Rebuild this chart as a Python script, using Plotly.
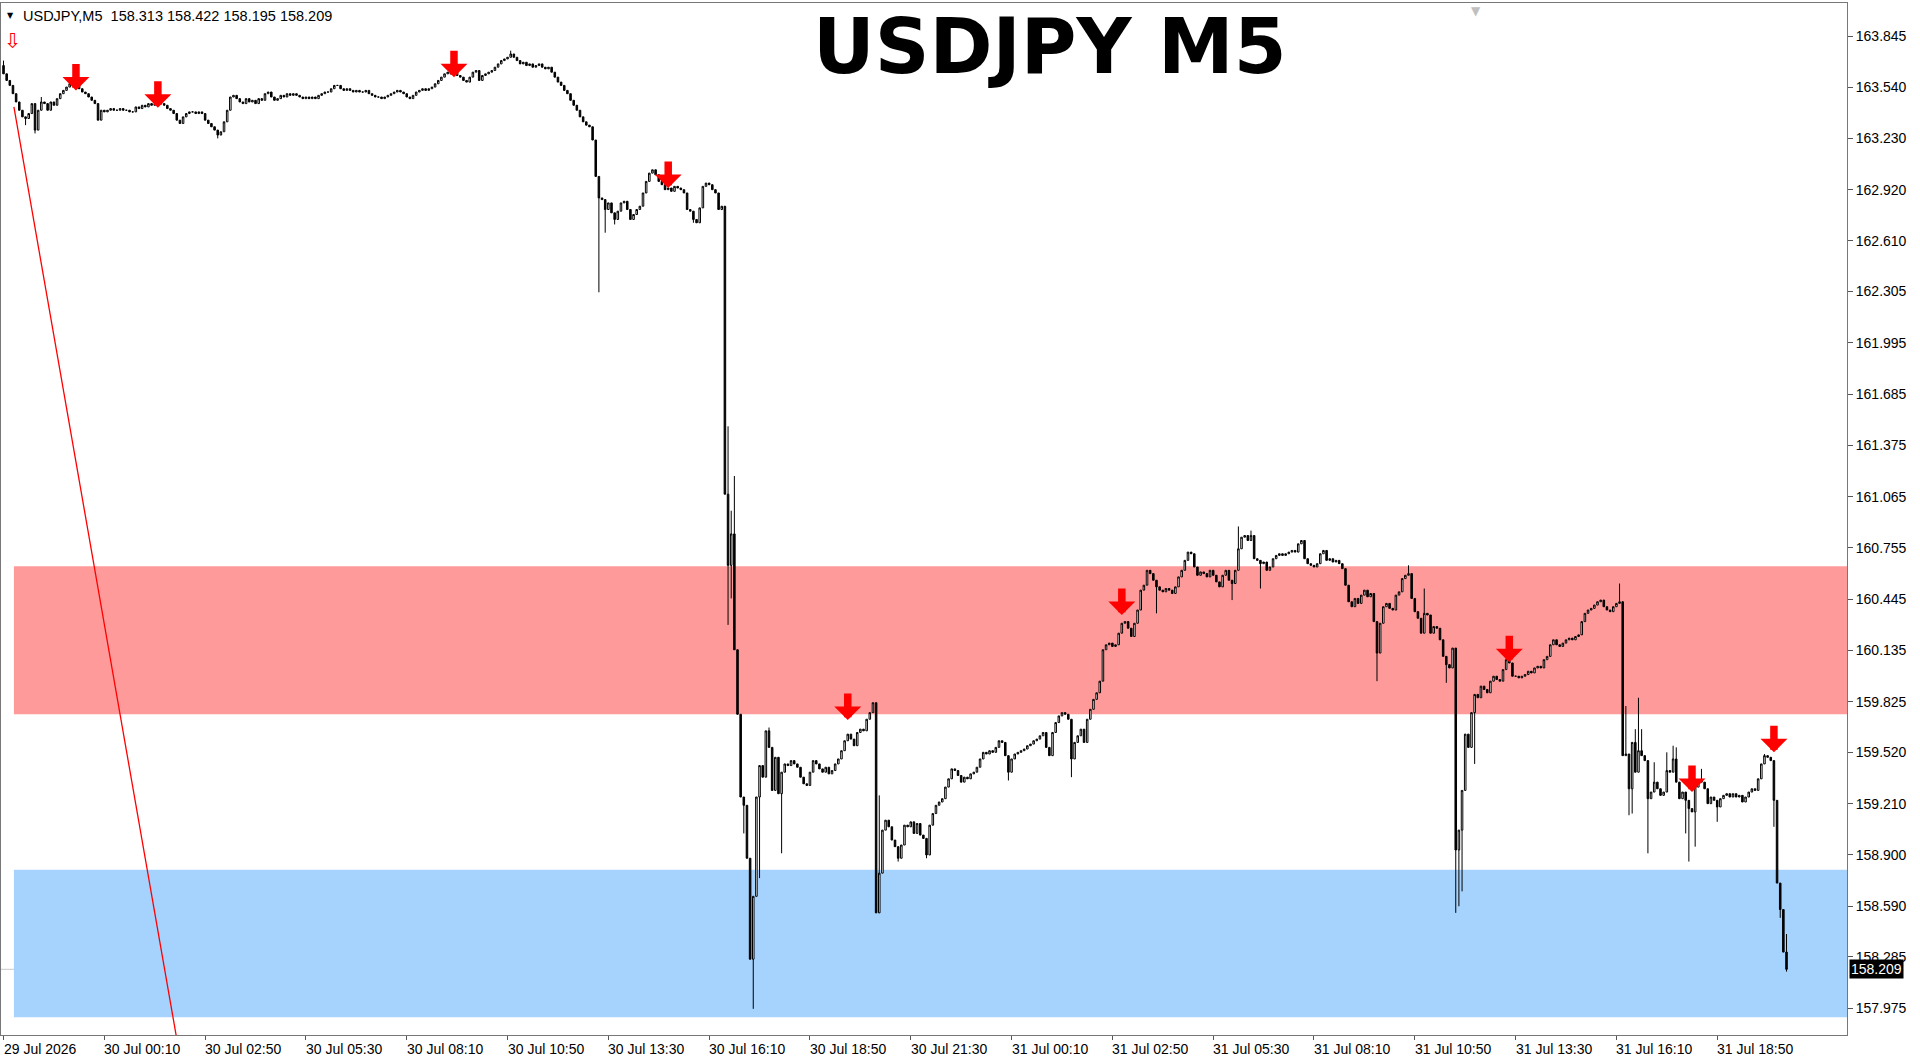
import plotly.graph_objs as go

# M5 bars, index 0 = 29 Jul 21:30 (closes)
closes = [
    163.62, 163.58, 163.55, 163.50, 163.45, 163.40, 163.36, 163.35, 163.38, 163.44,
    163.28, 163.40, 163.45, 163.44, 163.40, 163.45, 163.43, 163.47, 163.50, 163.52,
    163.54, 163.56, 163.57, 163.56, 163.53, 163.51, 163.50, 163.48, 163.46, 163.44,
    163.34, 163.40, 163.39, 163.40, 163.41, 163.40, 163.40, 163.41, 163.40, 163.40,
    163.39, 163.39, 163.42, 163.41, 163.43, 163.42, 163.44, 163.43, 163.44, 163.45,
    163.44, 163.43, 163.41, 163.40, 163.38, 163.34, 163.32, 163.36, 163.38, 163.39,
    163.39, 163.38, 163.39, 163.38, 163.34, 163.32, 163.30, 163.28, 163.25, 163.27,
    163.33, 163.40, 163.48, 163.49, 163.47, 163.45, 163.44, 163.47, 163.45, 163.46,
    163.44, 163.47, 163.46, 163.50, 163.51, 163.48, 163.46, 163.47, 163.49, 163.48,
    163.50, 163.49, 163.50, 163.49, 163.48, 163.47, 163.48, 163.47, 163.48, 163.47,
    163.49, 163.50, 163.51, 163.51, 163.53, 163.55, 163.55, 163.53, 163.52, 163.53,
    163.52, 163.51, 163.52, 163.51, 163.51, 163.52, 163.50, 163.49, 163.48, 163.48,
    163.47, 163.48, 163.49, 163.50, 163.51, 163.52, 163.51, 163.50, 163.48, 163.47,
    163.49, 163.51, 163.52, 163.53, 163.52, 163.53, 163.54, 163.56, 163.58, 163.60,
    163.62, 163.63, 163.62, 163.63, 163.61, 163.60, 163.58, 163.57, 163.60, 163.63,
    163.64, 163.58, 163.61, 163.62, 163.63, 163.64, 163.66, 163.68, 163.70, 163.71,
    163.72, 163.74, 163.72, 163.70, 163.68, 163.69, 163.67, 163.68, 163.66, 163.67,
    163.68, 163.66, 163.65, 163.66, 163.63, 163.60, 163.57, 163.55, 163.52, 163.50,
    163.46, 163.43, 163.40, 163.36, 163.33, 163.31, 163.30, 163.22, 163.00, 162.87,
    162.86, 162.80, 162.84, 162.78, 162.74, 162.79, 162.84, 162.85, 162.80, 162.74,
    162.77, 162.80, 162.82, 162.90, 162.97, 163.02, 163.04, 163.01, 162.97, 162.95,
    162.92, 162.93, 162.91, 162.94, 162.93, 162.92, 162.90, 162.80, 162.79, 162.74,
    162.72, 162.81, 162.94, 162.96, 162.95, 162.92, 162.90, 162.80, 162.82, 161.08,
    160.65, 160.84, 160.14, 159.75, 159.25, 159.20, 158.88, 158.27, 158.65, 159.25,
    159.44, 159.37, 159.65, 159.55, 159.29, 159.49, 159.27, 159.40, 159.45, 159.44,
    159.47, 159.45, 159.43, 159.37, 159.33, 159.32, 159.40, 159.47, 159.45, 159.42,
    159.40, 159.43, 159.39, 159.41, 159.45, 159.48, 159.53, 159.59, 159.63, 159.60,
    159.56, 159.64, 159.66, 159.65, 159.72, 159.76, 159.82, 158.55, 158.79, 159.05,
    159.11, 159.07, 158.99, 158.95, 158.88, 158.96, 159.08, 159.07, 159.10, 159.03,
    159.09, 159.02, 159.00, 158.90, 159.08, 159.15, 159.20, 159.22, 159.24, 159.31,
    159.36, 159.42, 159.41, 159.38, 159.34, 159.37, 159.36, 159.39, 159.40, 159.43,
    159.48, 159.52, 159.51, 159.53, 159.52, 159.55, 159.59, 159.58, 159.50, 159.40,
    159.48, 159.51, 159.52, 159.53, 159.54, 159.56, 159.57, 159.59, 159.60, 159.62,
    159.64, 159.55, 159.50, 159.64, 159.70, 159.74, 159.76, 159.75, 159.72, 159.48,
    159.58, 159.62, 159.66, 159.58, 159.72, 159.78, 159.84, 159.88, 159.95, 160.14,
    160.17, 160.18, 160.16, 160.17, 160.24, 160.30, 160.31, 160.27, 160.22, 160.30,
    160.38, 160.50, 160.53, 160.62, 160.60, 160.56, 160.52, 160.50, 160.49, 160.51,
    160.50, 160.48, 160.52, 160.58, 160.62, 160.68, 160.73, 160.72, 160.64, 160.59,
    160.61, 160.60, 160.58, 160.62, 160.59, 160.55, 160.52, 160.59, 160.62, 160.56,
    160.54, 160.62, 160.75, 160.82, 160.83, 160.80, 160.83, 160.69, 160.68, 160.66,
    160.67, 160.62, 160.64, 160.69, 160.71, 160.72, 160.71, 160.72, 160.73, 160.74,
    160.73, 160.78, 160.80, 160.69, 160.66, 160.65, 160.64, 160.66, 160.72, 160.74,
    160.68, 160.69, 160.67, 160.68, 160.66, 160.63, 160.53, 160.43, 160.40, 160.45,
    160.42, 160.47, 160.50, 160.46, 160.48, 160.31, 160.12, 160.30, 160.40, 160.42,
    160.39, 160.38, 160.47, 160.49, 160.57, 160.59, 160.60, 160.45, 160.37, 160.33,
    160.24, 160.36, 160.35, 160.24, 160.28, 160.27, 160.20, 160.10, 160.05, 160.03,
    160.15, 158.93, 159.05, 159.29, 159.63, 159.55, 159.76, 159.87, 159.85, 159.92,
    159.90, 159.88, 159.95, 159.98, 159.96, 159.95, 160.02, 160.08, 160.06, 159.98,
    159.98, 159.97, 159.98, 159.99, 160.01, 160.00, 160.03, 160.04, 160.03, 160.08,
    160.10, 160.17, 160.20, 160.17, 160.16, 160.18, 160.20, 160.21, 160.20, 160.22,
    160.23, 160.31, 160.36, 160.38, 160.39, 160.41, 160.43, 160.44, 160.40, 160.38,
    160.37, 160.40, 160.42, 160.43, 159.50, 159.51, 159.30, 159.58, 159.40, 159.53,
    159.50, 159.47, 159.24, 159.28, 159.34, 159.30, 159.26, 159.28, 159.41, 159.40,
    159.48, 159.34, 159.24, 159.28, 159.23, 159.18, 159.16, 159.31, 159.35, 159.34,
    159.30, 159.21, 159.25, 159.23, 159.19, 159.24, 159.26, 159.27, 159.25, 159.27,
    159.25, 159.26, 159.22, 159.25, 159.28, 159.30, 159.29, 159.36, 159.45, 159.50,
    159.49, 159.47, 159.23, 158.73, 158.57, 158.313, 158.209,
]
first_open = 163.67

# longer shadows (bar index -> price)
wick_high = {
    0: 163.70, 12: 163.48, 161: 163.76, 230: 161.49, 231: 160.98, 232: 161.19,
    243: 159.67, 278: 159.26, 392: 160.885, 396: 160.86, 446: 160.65, 451: 160.51,
    513: 160.54, 515: 159.80, 518: 159.66, 519: 159.85, 520: 159.66, 524: 159.46,
    528: 159.52, 530: 159.56, 531: 159.55, 539: 159.42, 559: 159.51, 566: 158.422,
}
wick_low = {
    7: 163.31, 10: 163.26, 68: 163.23, 189: 162.30, 191: 162.66, 194: 162.71,
    219: 162.72, 230: 160.29, 231: 160.45, 235: 159.03, 238: 157.97, 240: 158.76,
    247: 158.91, 284: 158.86, 293: 158.88, 319: 159.35, 339: 159.37, 366: 160.36,
    390: 160.44, 399: 160.51, 436: 159.95, 458: 159.94, 461: 158.55, 462: 158.59,
    463: 158.68, 467: 159.45, 516: 159.14, 517: 159.15, 522: 158.91, 534: 159.03,
    535: 158.86, 537: 158.95, 544: 159.10, 562: 159.07, 564: 158.52, 566: 158.195,
}

tick_bars = [0, 32, 64, 96, 128, 160, 192, 224, 256, 288, 320, 352, 384, 416, 448, 480, 512, 544]
tick_labels = [
    "29 Jul 2026", "30 Jul 00:10", "30 Jul 02:50", "30 Jul 05:30", "30 Jul 08:10",
    "30 Jul 10:50", "30 Jul 13:30", "30 Jul 16:10", "30 Jul 18:50", "30 Jul 21:30",
    "31 Jul 00:10", "31 Jul 02:50", "31 Jul 05:30", "31 Jul 08:10", "31 Jul 10:50",
    "31 Jul 13:30", "31 Jul 16:10", "31 Jul 18:50",
]
price_ticks = [163.845, 163.540, 163.230, 162.920, 162.610, 162.305, 161.995, 161.685,
               161.375, 161.065, 160.755, 160.445, 160.135, 159.825, 159.520, 159.210,
               158.900, 158.590, 158.285, 157.975]

arrow_bars = [23, 49, 143, 211, 268, 355, 478, 536, 562]
arrow_prices = [163.52, 163.415, 163.60, 162.93, 159.715, 160.35, 160.065, 159.28, 159.52]

red_zone = [159.75, 160.645]
blue_zone = [157.92, 158.81]
zone_start = 3.3
trend_x = [3.3, 54.8]
trend_y = [163.42, 157.81]
bid = 158.209
header = "USDJPY,M5  158.313 158.422 158.195 158.209"

# build OHLC: each bar opens at the previous close
opens, highs, lows = [], [], []
prev = first_open
for i, c in enumerate(closes):
    opens.append(prev)
    highs.append(max(prev, c, wick_high.get(i, c)))
    lows.append(min(prev, c, wick_low.get(i, c)))
    prev = c
bars = list(range(len(closes)))

fig = go.Figure()
fig.add_trace(go.Candlestick(
    x=bars, open=opens, high=highs, low=lows, close=closes,
    increasing=dict(line=dict(color="black", width=1), fillcolor="white"),
    decreasing=dict(line=dict(color="black", width=1), fillcolor="black"),
    whiskerwidth=0, hoverinfo="skip", showlegend=False,
))

# trend line
fig.add_trace(go.Scatter(x=trend_x, y=trend_y, mode="lines",
                         line=dict(color="#ff0000", width=1.3),
                         hoverinfo="skip", showlegend=False))

# sell arrows (tip sits on the given price)
for ab, ap in zip(arrow_bars, arrow_prices):
    fig.add_annotation(x=ab, y=ap, xref="x", yref="y", text="", showarrow=True,
                       ax=0, ay=-28, arrowcolor="#ff0000", arrowwidth=7.5,
                       arrowhead=1, arrowsize=0.6, standoff=0)

# zones + bid line
fig.add_shape(type="rect", xref="x", yref="y", x0=zone_start, x1=700, y0=red_zone[0], y1=red_zone[1],
              fillcolor="#ff9a9a", line_width=0, layer="below")
fig.add_shape(type="rect", xref="x", yref="y", x0=zone_start, x1=700, y0=blue_zone[0], y1=blue_zone[1],
              fillcolor="#a6d3fe", line_width=0, layer="below")
fig.add_shape(type="line", xref="paper", yref="y", x0=0, x1=1, y0=bid, y1=bid,
              line=dict(color="#c8c8c8", width=1), layer="below")

for tb, tl in zip(tick_bars, tick_labels):
    fig.add_annotation(x=tb, y=0, xref="x", yref="paper", text=tl, showarrow=False,
                       xanchor="left", yanchor="top", xshift=-2, yshift=-4,
                       font=dict(family="Liberation Sans", size=14, color="black"))

fig.add_annotation(x=1, y=bid, xref="paper", yref="y", text=f"{bid:.3f}", showarrow=False,
                   xanchor="left", yanchor="middle", xshift=2, bgcolor="black", borderpad=1,
                   font=dict(family="Liberation Sans", size=14, color="white"))

fig.add_annotation(x=0, y=1, xref="paper", yref="paper", text="▼", showarrow=False,
                   xanchor="left", yanchor="top", xshift=4, yshift=-6,
                   font=dict(family="DejaVu Sans", size=8, color="black"))
fig.add_annotation(x=0, y=1, xref="paper", yref="paper", text=header, showarrow=False,
                   xanchor="left", yanchor="top", xshift=20, yshift=-3,
                   font=dict(family="Liberation Sans", size=14.5, color="black"))
fig.add_annotation(x=3, y=163.82, xref="x", yref="y", text="⇩", showarrow=False,
                   font=dict(family="DejaVu Sans", size=21, color="#ff0000"))
fig.add_annotation(x=467.5, y=1, xref="x", yref="paper", text="▼", showarrow=False,
                   yanchor="top", yshift=1, font=dict(family="DejaVu Sans", size=12, color="#c0c0c0"))

fig.add_annotation(x=0.568, y=1, xref="paper", yref="paper", text="<b>USDJPY M5</b>",
                   showarrow=False, xanchor="center", yanchor="top", yshift=3,
                   font=dict(family="DejaVu Sans", size=76, color="black"))

fig.update_layout(
    width=1920, height=1061,
    margin=dict(l=1, r=73, t=3, b=26),
    paper_bgcolor="white", plot_bgcolor="white",
    xaxis=dict(range=[-0.8, 585.2], tickvals=tick_bars, showticklabels=False,
               ticks="outside", ticklen=4, tickcolor="#555", showgrid=False, zeroline=False,
               showline=True, linecolor="#777", linewidth=1, mirror=True,
               rangeslider=dict(visible=False)),
    yaxis=dict(range=[157.812, 164.048], side="right", tickvals=price_ticks,
               ticktext=[f"{p:.3f}" for p in price_ticks], ticks="outside", ticklen=5,
               tickcolor="#555", showgrid=False, zeroline=False,
               showline=True, linecolor="#777", linewidth=1, mirror=True,
               tickfont=dict(family="Liberation Sans", size=14, color="black")),
)

# drop the default page margin so the figure sits at the window's corner
fig.write_html("out.html", config={"displayModeBar": False},
               post_script="document.body.style.margin='0';document.body.style.overflow='hidden';")
